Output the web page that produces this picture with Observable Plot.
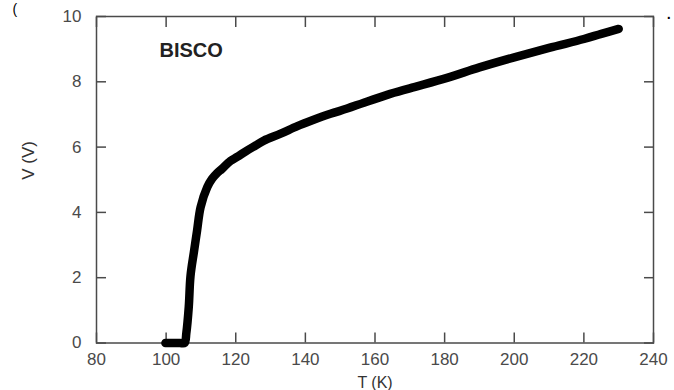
<!DOCTYPE html>
<html>
<head>
<meta charset="utf-8">
<script src="https://cdn.jsdelivr.net/npm/d3@7"></script>
<script src="https://cdn.jsdelivr.net/npm/@observablehq/plot@0.6"></script>
<style>
  html, body { margin: 0; padding: 0; background: #fff; }
  #chart { width: 674px; height: 390px; }
</style>
</head>
<body>
<div id="chart"></div>
<script>
const temperatureK = [99.8, 101, 102.5, 104, 105.3, 105.8, 106.5, 107.0, 108.0, 108.9, 109.9, 111.8, 113.2, 114.6, 116.0, 118.5, 120.4, 123.0, 125.7, 128.1, 132.9, 137.7, 142.0, 147.2, 152.0, 156.8, 163.5, 170.0, 180.7, 190.0, 200.0, 210.0, 220.0, 225.0, 230.0];
const voltageV     = [0, 0, 0, 0, 0, 0.3, 1.1, 2.05, 2.8, 3.45, 4.16, 4.77, 5.03, 5.2, 5.33, 5.58, 5.7, 5.88, 6.05, 6.2, 6.41, 6.64, 6.82, 7.02, 7.18, 7.36, 7.6, 7.8, 8.12, 8.44, 8.75, 9.04, 9.31, 9.47, 9.62];
const xTicks = [80, 100, 120, 140, 160, 180, 200, 220, 240];
const yTicks = [0, 2, 4, 6, 8, 10];
const xLabel = "T (K)";
const yLabel = "V (V)";
const panelLabel = "BISCO";

const data = temperatureK.map((t, i) => ({T: t, V: voltageV[i]}));
const axisColor = "#4a4a4a";

const chart = Plot.plot({
  width: 674,
  height: 390,
  marginLeft: 96,
  marginRight: 21,
  marginTop: 16,
  marginBottom: 47.5,
  x: {domain: [80, 240]},
  y: {domain: [0, 10]},
  style: {fontFamily: "'Liberation Sans', Arial, Helvetica, sans-serif", fontSize: "17px", background: "#fff", color: "#333"},
  marks: [
    Plot.axisX(xTicks, {anchor: "bottom", tickSize: -10, tickPadding: 20, label: null, color: axisColor, strokeWidth: 1.5}),
    Plot.axisX(xTicks, {anchor: "top", tickSize: -10, tickFormat: () => "", label: null, color: axisColor, strokeWidth: 1.5}),
    Plot.axisY(yTicks, {anchor: "left", tickSize: -10, tickPadding: 25, label: null, color: axisColor, strokeWidth: 1.5}),
    Plot.axisY(yTicks, {anchor: "right", tickSize: -10, tickFormat: () => "", label: null, color: axisColor, strokeWidth: 1.5}),
    Plot.frame({stroke: axisColor, strokeWidth: 1.5}),
    Plot.line(data, {x: "T", y: "V", stroke: "#000", strokeWidth: 8.5, strokeLinecap: "round", strokeLinejoin: "round", curve: "catmull-rom"}),
    Plot.text([panelLabel], {text: d => d, frameAnchor: "top-left", dx: 63, dy: 34, textAnchor: "start", lineAnchor: "middle", fontWeight: "bold", fontSize: 20, fill: "#222", letterSpacing: "0.8px"}),
    Plot.text([xLabel], {text: d => d, frameAnchor: "bottom", dy: 40, lineAnchor: "middle", fontSize: 16, fill: "#333"}),
    Plot.text([yLabel], {text: d => d, frameAnchor: "left", dx: -68, rotate: -90, lineAnchor: "middle", fontSize: 17, fill: "#333"}),
    Plot.text(["("], {text: d => d, frameAnchor: "top-left", dx: -84, dy: -12, lineAnchor: "top", textAnchor: "start", fontSize: 14, fill: "#000"}),
    Plot.text(["."], {text: d => d, frameAnchor: "top-right", dx: 18, dy: -4, lineAnchor: "middle", textAnchor: "end", fontSize: 20, fill: "#000"})
  ]
});
document.getElementById("chart").appendChild(chart);
</script>
</body>
</html>
